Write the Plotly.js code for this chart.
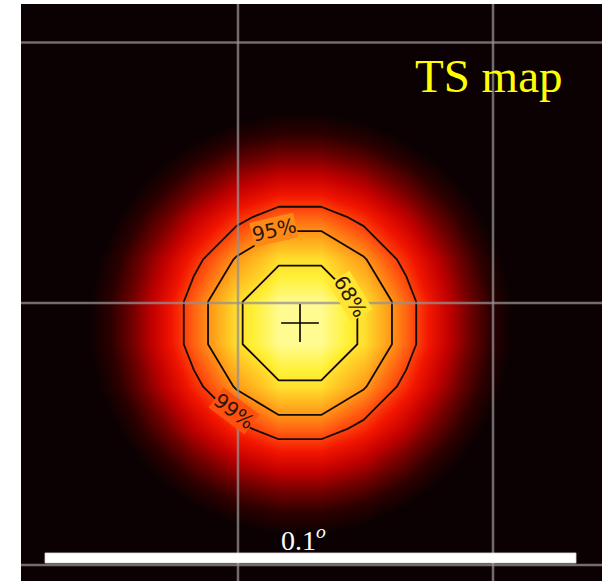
<!DOCTYPE html>
<html>
<head>
<meta charset="utf-8">
<script src="https://cdn.plot.ly/plotly-3.0.1.min.js"></script>
<style>
  html, body { margin: 0; padding: 0; background: #ffffff; }
  #chart { width: 602px; height: 581px; }
</style>
</head>
<body>
<div id="chart"></div>
<script>
// Offsets from the best-fit source position, in degrees
const gridX = [-0.044, -0.036, -0.028, -0.020, -0.012, -0.004, 0.004, 0.012, 0.020, 0.028, 0.036, 0.044];
const gridY = [-0.044, -0.036, -0.028, -0.020, -0.012, -0.004, 0.004, 0.012, 0.020, 0.028, 0.036, 0.044];

// Test statistic on the sky grid (rows follow gridY, columns follow gridX)
const tsMap = [
  [ 7.0,  9.6, 12.2, 14.7, 16.6, 17.6, 17.6, 16.6, 14.7, 12.2,  9.6,  7.0],
  [ 9.6, 13.0, 16.6, 19.9, 22.5, 23.9, 23.9, 22.5, 19.9, 16.6, 13.0,  9.6],
  [12.2, 16.6, 21.1, 25.4, 28.7, 30.5, 30.5, 28.7, 25.4, 21.1, 16.6, 12.2],
  [14.7, 19.9, 25.4, 30.5, 34.4, 36.9, 36.9, 34.4, 30.5, 25.4, 19.9, 14.7],
  [16.6, 22.5, 28.7, 34.4, 38.9, 42.0, 42.0, 38.9, 34.4, 28.7, 22.5, 16.6],
  [17.6, 23.9, 30.5, 36.9, 42.0, 44.0, 44.0, 42.0, 36.9, 30.5, 23.9, 17.6],
  [17.6, 23.9, 30.5, 36.9, 42.0, 44.0, 44.0, 42.0, 36.9, 30.5, 23.9, 17.6],
  [16.6, 22.5, 28.7, 34.4, 38.9, 42.0, 42.0, 38.9, 34.4, 28.7, 22.5, 16.6],
  [14.7, 19.9, 25.4, 30.5, 34.4, 36.9, 36.9, 34.4, 30.5, 25.4, 19.9, 14.7],
  [12.2, 16.6, 21.1, 25.4, 28.7, 30.5, 30.5, 28.7, 25.4, 21.1, 16.6, 12.2],
  [ 9.6, 13.0, 16.6, 19.9, 22.5, 23.9, 23.9, 22.5, 19.9, 16.6, 13.0,  9.6],
  [ 7.0,  9.6, 12.2, 14.7, 16.6, 17.6, 17.6, 16.6, 14.7, 12.2,  9.6,  7.0]
];

// Best-fit position and peak TS
const peakX = [0.0];
const peakY = [0.0];
const tsPeak = 44.6;

// Error contours: TS drop from the peak for 2 free parameters
const confLabels = ['68%', '95%', '99%'];
const confDeltaTS = [2.30, 5.99, 9.21];
// where each contour label sits on its line (degrees), its tilt and the map colour beneath it
const confLabelX = [0.00940, -0.00490, -0.01243];
const confLabelY = [0.00500, 0.01750, -0.01657];
const confLabelAngle = [59, -13, 37];
const confLabelBg = ['#ffe431', '#ff8916', '#fe500f'];

// Coordinate graticule (RA lines vertical, Dec lines horizontal)
const raLines = [-0.01168, 0.03635];
const decLines = [0.05282, 0.00377, -0.04557];

// Angular scale bar
const scaleBarStart = -0.04802;
const scaleBarLength = 0.1;
const scaleBarLabel = '0.1<sup><i>o</i></sup>';
const mapTitle = 'TS map';

const tsColors = [
  [0.000, '#0b0102'],
  [0.139, '#2e0000'],
  [0.278, '#700000'],
  [0.413, '#c00000'],
  [0.543, '#f21500'],
  [0.665, '#ff5510'],
  [0.778, '#ff9a18'],
  [0.870, '#ffc825'],
  [0.946, '#fff035'],
  [1.000, '#fffb90']
];

const traces = [{
  type: 'heatmap',
  x: gridX, y: gridY, z: tsMap,
  zmin: 21, zmax: 44,
  zsmooth: 'best',
  colorscale: tsColors,
  showscale: false,
  hoverinfo: 'skip'
}];

confDeltaTS.forEach(d => {
  const level = tsPeak - d;
  traces.push({
    type: 'contour',
    x: gridX, y: gridY, z: tsMap,
    autocontour: false,
    contours: { start: level, end: level, size: 1, coloring: 'none', showlabels: false },
    line: { color: '#120a04', width: 1.8, smoothing: 0 },
    showscale: false,
    hoverinfo: 'skip'
  });
});

traces.push({
  type: 'scatter', mode: 'markers',
  x: peakX, y: peakY,
  marker: { symbol: 'cross-thin', size: 27, color: '#000000', line: { color: '#000000', width: 1.6 } },
  hoverinfo: 'skip'
});

const gridStyle = { color: 'rgba(150,144,144,0.75)', width: 2.5 };
const shapes = [];
raLines.forEach(x => shapes.push({
  type: 'line', xref: 'x', yref: 'paper', x0: x, x1: x, y0: 0, y1: 1,
  line: gridStyle, layer: 'above'
}));
decLines.forEach(y => shapes.push({
  type: 'line', xref: 'paper', yref: 'y', x0: 0, x1: 1, y0: y, y1: y,
  line: gridStyle, layer: 'above'
}));
shapes.push({
  type: 'rect', xref: 'x', yref: 'y',
  x0: scaleBarStart, x1: scaleBarStart + scaleBarLength,
  y0: -0.04520, y1: -0.04331,
  fillcolor: '#ffffff', line: { color: '#d8d4d4', width: 0.8 }, layer: 'above'
});

const annotations = confLabels.map((t, i) => ({
  text: t, xref: 'x', yref: 'y',
  x: confLabelX[i], y: confLabelY[i],
  xanchor: 'center', yanchor: 'middle',
  textangle: confLabelAngle[i],
  showarrow: false,
  bgcolor: confLabelBg[i], borderpad: 0,
  font: { family: 'DejaVu Sans', size: 20, color: '#2a1606' }
}));
annotations.push({
  text: mapTitle, xref: 'paper', yref: 'paper',
  x: 0.936, y: 0.876, xanchor: 'right', yanchor: 'middle',
  showarrow: false,
  font: { family: 'Liberation Serif', size: 47, color: '#ffff00' }
});
annotations.push({
  text: scaleBarLabel, xref: 'x', yref: 'paper',
  x: scaleBarStart + scaleBarLength / 2 - 0.0013, y: 0.073,
  xanchor: 'center', yanchor: 'middle',
  showarrow: false,
  font: { family: 'Liberation Serif', size: 28, color: '#ffffff' }
});

const layout = {
  width: 602, height: 581,
  margin: { l: 21, r: 0, t: 4, b: 0 },
  paper_bgcolor: '#ffffff',
  plot_bgcolor: '#0b0102',
  showlegend: false,
  xaxis: { range: [-0.052541, 0.056873], showgrid: false, zeroline: false, showticklabels: false, ticks: '', showline: false, fixedrange: true },
  yaxis: { range: [-0.048587, 0.060074], showgrid: false, zeroline: false, showticklabels: false, ticks: '', showline: false, fixedrange: true },
  shapes: shapes,
  annotations: annotations
};

Plotly.newPlot('chart', traces, layout, { displayModeBar: false, staticPlot: true });
</script>
</body>
</html>
